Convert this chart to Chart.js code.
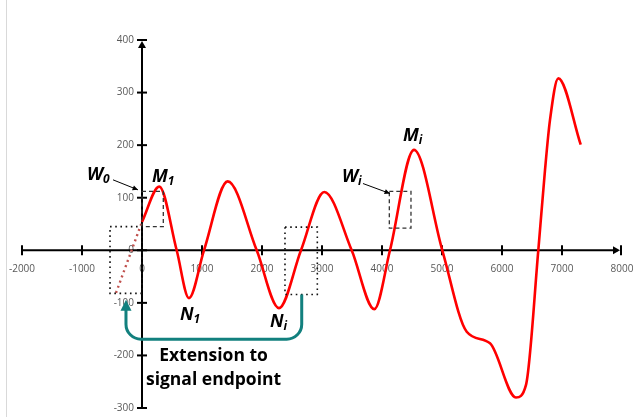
<!DOCTYPE html>
<html>
<head>
<meta charset="utf-8">
<script src="https://cdn.jsdelivr.net/npm/chart.js@4.4.1/dist/chart.umd.min.js"></script>
<style>
  html, body { margin: 0; padding: 0; background: #fff; }
  #wrap { width: 634px; height: 417px; }
</style>
</head>
<body>
<div id="wrap"><canvas id="signalChart" width="634" height="417"></canvas></div>
<script>
// signal samples
const sigX = [0, 288, 578, 783, 1033, 1428, 1912, 2283, 2650, 3038, 3495, 3872, 4133, 4533, 5005, 5412, 5800, 6233, 6400, 6605, 6717, 6800, 6938, 7312];
const sigY = [54, 121, 0, -91, 0, 131, 0, -110, 0, 111, 0, -112, 0, 191, 0, -155, -177, -280, -256, 0, 153, 248, 327, 201];

// dotted extension to the signal endpoint
const extX = [-433, 0];
const extY = [-81, 54];

const xTicks = [-2000, -1000, 0, 1000, 2000, 3000, 4000, 5000, 6000, 7000, 8000];
const yTicks = [-300, -200, -100, 0, 100, 200, 300, 400];

// annotation layout, in data units
const notes = {
    dashed: [[0, 355, 112, 45], [4122, 4483, 112, 42]],
    dotted: [[-533, 0, 45, -82], [2383, 2922, 44, -84]],
    labels: [
        {x: -917, y: 134, main: 'W', sub: '0'},
        {x: 167, y: 129, main: 'M', sub: '1'},
        {x: 633, y: -132, main: 'N', sub: '1'},
        {x: 2133, y: -146, main: 'N', sub: 'i'},
        {x: 3333, y: 130, main: 'W', sub: 'i'},
        {x: 4350, y: 207, main: 'M', sub: 'i'}
    ],
    pointers: [[-483, 134, -67, 115], [3683, 127, 4133, 108]],
    loop: {right: 2662, start: -84, bottom: -169, left: -267, tip: -94},
    caption: {x: 1192, lines: [['Extension to', -210], ['signal endpoint', -256]]}
};

const tickFont = '10px "Open Sans"';
const tickColor = '#595959';

const axesPlugin = {
    id: 'axesPlugin',
    beforeDatasetsDraw(chart) {
        const {ctx} = chart;
        const x = chart.scales.x, y = chart.scales.y;
        const x0 = x.getPixelForValue(0), y0 = y.getPixelForValue(0);
        ctx.save();

        ctx.strokeStyle = '#d9d9d9';
        ctx.lineWidth = 1;
        ctx.beginPath();
        ctx.moveTo(6.5, 0);
        ctx.lineTo(6.5, chart.height);
        ctx.stroke();

        // y tick labels, left of the axis
        ctx.font = tickFont;
        ctx.fillStyle = tickColor;
        ctx.textAlign = 'right';
        ctx.textBaseline = 'middle';
        yTicks.forEach(v => ctx.fillText(String(v), x0 - 8, y.getPixelForValue(v)));

        ctx.strokeStyle = '#000';
        ctx.fillStyle = '#000';
        ctx.lineWidth = 2;

        // x axis
        const xl = x.getPixelForValue(xTicks[0]);
        const xr = x.getPixelForValue(xTicks[xTicks.length - 1]);
        ctx.beginPath();
        ctx.moveTo(xl, y0);
        ctx.lineTo(xr - 4, y0);
        ctx.stroke();
        xTicks.slice(0, -1).forEach(v => {
            const px = x.getPixelForValue(v);
            ctx.beginPath();
            ctx.moveTo(px, y0 - 5);
            ctx.lineTo(px, y0 + 5);
            ctx.stroke();
        });
        ctx.beginPath();
        ctx.moveTo(xr - 1, y0 - 5);
        ctx.lineTo(xr - 1, y0 + 5);
        ctx.stroke();
        ctx.beginPath();
        ctx.moveTo(xr - 2, y0);
        ctx.lineTo(xr - 9, y0 - 4);
        ctx.lineTo(xr - 9, y0 + 4);
        ctx.closePath();
        ctx.fill();

        // y axis
        const yb = y.getPixelForValue(yTicks[0]);
        const yt = y.getPixelForValue(yTicks[yTicks.length - 1]);
        ctx.beginPath();
        ctx.moveTo(x0, yb);
        ctx.lineTo(x0, yt + 4);
        ctx.stroke();
        yTicks.forEach(v => {
            const py = y.getPixelForValue(v);
            ctx.beginPath();
            ctx.moveTo(x0 - 5, py);
            ctx.lineTo(x0 + 5, py);
            ctx.stroke();
        });
        ctx.beginPath();
        ctx.moveTo(x0, yt + 1);
        ctx.lineTo(x0 - 4, yt + 8);
        ctx.lineTo(x0 + 4, yt + 8);
        ctx.closePath();
        ctx.fill();

        ctx.restore();
    }
};

function drawArrow(ctx, x1, y1, x2, y2) {
    const a = Math.atan2(y2 - y1, x2 - x1);
    ctx.beginPath();
    ctx.moveTo(x1, y1);
    ctx.lineTo(x2, y2);
    ctx.stroke();
    ctx.beginPath();
    ctx.moveTo(x2, y2);
    ctx.lineTo(x2 - 6 * Math.cos(a - 0.45), y2 - 6 * Math.sin(a - 0.45));
    ctx.lineTo(x2 - 6 * Math.cos(a + 0.45), y2 - 6 * Math.sin(a + 0.45));
    ctx.closePath();
    ctx.fill();
}

const notesPlugin = {
    id: 'notesPlugin',
    afterDatasetsDraw(chart) {
        const {ctx} = chart;
        const X = v => chart.scales.x.getPixelForValue(v);
        const Y = v => chart.scales.y.getPixelForValue(v);
        ctx.save();

        // dashed windows
        ctx.strokeStyle = '#333';
        ctx.lineWidth = 1.3;
        ctx.setLineDash([4, 3]);
        notes.dashed.forEach(b => {
            ctx.strokeRect(X(b[0]), Y(b[2]), X(b[1]) - X(b[0]), Y(b[3]) - Y(b[2]));
        });

        // dotted windows
        ctx.strokeStyle = '#111';
        ctx.lineWidth = 1.6;
        ctx.setLineDash([1.6, 3.6]);
        notes.dotted.forEach(b => {
            ctx.strokeRect(X(b[0]), Y(b[2]), X(b[1]) - X(b[0]), Y(b[3]) - Y(b[2]));
        });
        ctx.setLineDash([]);

        // pointers
        ctx.strokeStyle = '#000';
        ctx.fillStyle = '#000';
        ctx.lineWidth = 1;
        notes.pointers.forEach(p => drawArrow(ctx, X(p[0]), Y(p[1]), X(p[2]), Y(p[3])));

        // labels with subscripts
        ctx.textAlign = 'left';
        ctx.textBaseline = 'alphabetic';
        notes.labels.forEach(l => {
            ctx.font = 'italic bold 18px "Open Sans"';
            ctx.fillText(l.main, X(l.x), Y(l.y));
            const w = ctx.measureText(l.main).width;
            ctx.font = 'italic bold 12px "Open Sans"';
            ctx.fillText(l.sub, X(l.x) + w, Y(l.y) + 3);
        });

        // teal loop arrow
        const lp = notes.loop;
        const xR = X(lp.right), xL = X(lp.left);
        const yS = Y(lp.start), yB = Y(lp.bottom), yTip = Y(lp.tip);
        ctx.strokeStyle = '#12807e';
        ctx.fillStyle = '#12807e';
        ctx.lineWidth = 3;
        ctx.beginPath();
        ctx.moveTo(xR, yS);
        ctx.arcTo(xR, yB, xL, yB, 15);
        ctx.arcTo(xL, yB, xL, yTip, 15);
        ctx.lineTo(xL, yTip + 8);
        ctx.stroke();
        ctx.beginPath();
        ctx.moveTo(xL, yTip);
        ctx.lineTo(xL - 5.5, yTip + 11);
        ctx.lineTo(xL + 5.5, yTip + 11);
        ctx.closePath();
        ctx.fill();

        // caption
        ctx.fillStyle = '#000';
        ctx.textAlign = 'center';
        ctx.font = 'bold 17.5px "Open Sans"';
        notes.caption.lines.forEach(([t, v]) => ctx.fillText(t, X(notes.caption.x), Y(v)));

        ctx.restore();
    }
};

const ctx = document.getElementById('signalChart');

new Chart(ctx, {
    type: 'line',
    data: {
        datasets: [{
            data: sigX.map((v, i) => ({x: v, y: sigY[i]})),
            borderColor: '#ff0000',
            borderWidth: 2.6,
            pointRadius: 0,
            cubicInterpolationMode: 'monotone',
            fill: false
        }, {
            data: extX.map((v, i) => ({x: v, y: extY[i]})),
            borderColor: '#c0504d',
            borderWidth: 2.4,
            borderDash: [2, 3.5],
            pointRadius: 0,
            fill: false
        }]
    },
    options: {
        responsive: false,
        animation: false,
        layout: {padding: {left: 22, right: 12, top: 40, bottom: 9}},
        plugins: {legend: {display: false}, tooltip: {enabled: false}},
        scales: {
            x: {
                type: 'linear',
                min: xTicks[0],
                max: xTicks[xTicks.length - 1],
                position: {y: 0},
                afterBuildTicks: s => { s.ticks = xTicks.map(v => ({value: v})); },
                afterFit: s => { s.height = 0; s.paddingLeft = 0; s.paddingRight = 0; },
                grid: {display: false},
                border: {display: false},
                ticks: {
                    color: tickColor,
                    font: {family: 'Open Sans', size: 10},
                    padding: 5,
                    maxRotation: 0,
                    autoSkip: false,
                    callback: v => String(v)
                }
            },
            y: {
                type: 'linear',
                min: yTicks[0],
                max: yTicks[yTicks.length - 1],
                position: {x: 0},
                afterBuildTicks: s => { s.ticks = yTicks.map(v => ({value: v})); },
                afterFit: s => { s.width = 0; s.paddingTop = 0; s.paddingBottom = 0; },
                grid: {display: false},
                border: {display: false},
                ticks: {display: false}
            }
        }
    },
    plugins: [axesPlugin, notesPlugin]
});
</script>
</body>
</html>
